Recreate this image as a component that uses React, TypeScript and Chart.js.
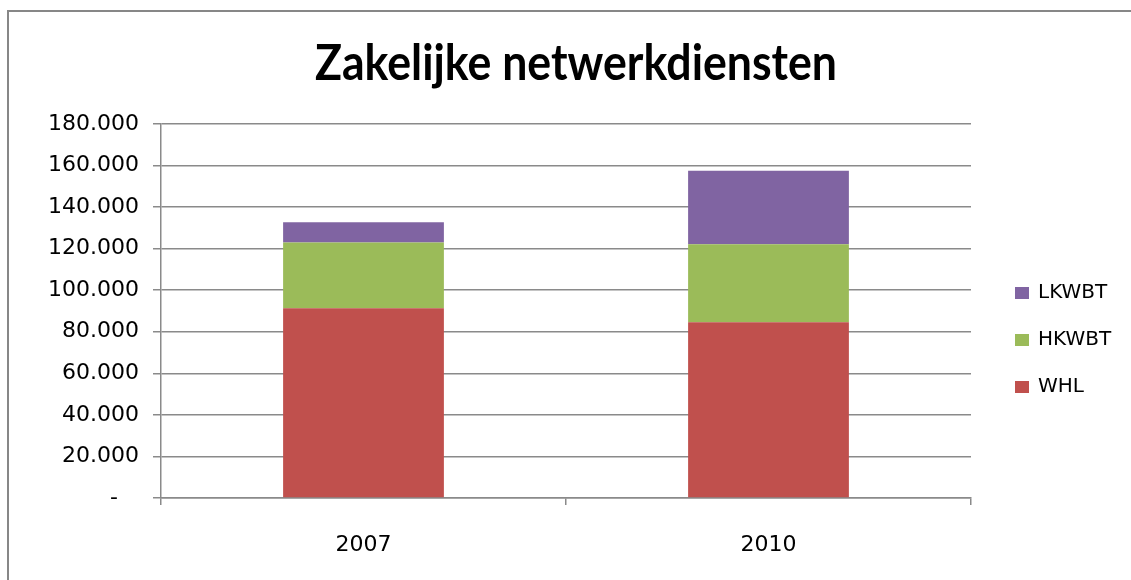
import { useEffect, useRef } from 'react';
import { Chart, registerables } from 'chart.js';

Chart.register(...registerables);

const categories = ['2007', '2010'];
const whl = [91300, 84600];
const hkwbt = [31700, 37500];
const lkwbt = [9700, 35400];
const seriesNames = ['WHL', 'HKWBT', 'LKWBT'];
const seriesColors = ['#C0504D', '#9BBB59', '#8064A2'];
const yMax = 180000;
const yStep = 20000;
const titleText = 'Zakelijke netwerkdiensten';

const gridColor = '#8a8a8a';
const axisFont = '"DejaVu Sans", "Open Sans", sans-serif';

function formatTick(v: number): string {
  if (v === 0) return '-   ';
  const thousands = Math.round(v / 1000);
  return `${thousands}.000`;
}

export default function App() {
  const ref = useRef<HTMLCanvasElement>(null);

  useEffect(() => {
    document.body.style.overflow = 'hidden';
    const canvas = ref.current;
    if (!canvas) return;

    const sideLegend = {
      id: 'sideLegend',
      afterDraw(chart: any) {
        const { ctx, chartArea } = chart;
        const items = [...chart.data.datasets].reverse();
        ctx.save();
        items.forEach((ds: any, i: number) => {
          const cy = chartArea.top + 169 + i * 47;
          ctx.fillStyle = ds.backgroundColor;
          ctx.fillRect(chartArea.right + 44, cy - 6, 14, 12);
          ctx.fillStyle = '#000';
          ctx.font = `20px ${axisFont}`;
          ctx.textBaseline = 'middle';
          ctx.textAlign = 'left';
          ctx.fillText(ds.label, chartArea.right + 67, cy);
        });
        ctx.restore();
      },
    };

    const condensedTitle = {
      id: 'condensedTitle',
      afterDraw(chart: any) {
        const { ctx } = chart;
        ctx.save();
        ctx.font = 'bold 50px Lato, "Open Sans", sans-serif';
        ctx.fillStyle = '#000';
        ctx.textBaseline = 'alphabetic';
        ctx.textAlign = 'center';
        const w = ctx.measureText(titleText).width;
        const sx = 522 / w;
        ctx.translate(576, 80);
        ctx.scale(sx, 1);
        ctx.fillText(titleText, 0, 0);
        ctx.restore();
      },
    };

    const values = [whl, hkwbt, lkwbt];
    const chart = new Chart(canvas, {
      type: 'bar',
      data: {
        labels: categories,
        datasets: seriesNames.map((name, i) => ({
          label: name,
          data: values[i],
          backgroundColor: seriesColors[i],
          borderWidth: 0,
          categoryPercentage: 1,
          barPercentage: 0.397,
        })),
      },
      options: {
        responsive: false,
        animation: false,
        layout: { padding: { left: 0, right: 160, top: 124, bottom: 0 } },
        plugins: {
          legend: { display: false },
          tooltip: { enabled: false },
          title: { display: false },
        },
        scales: {
          x: {
            stacked: true,
            afterFit: (scale: any) => { scale.height = 82; },
            grid: {
              display: true,
              drawOnChartArea: false,
              drawTicks: true,
              tickLength: 7,
              offset: true,
              color: gridColor,
              lineWidth: 1.5,
            },
            border: { display: true, color: gridColor, width: 1.5 },
            ticks: {
              color: '#000',
              font: { family: axisFont, size: 22 },
              padding: 27,
            },
          },
          y: {
            stacked: true,
            min: 0,
            max: yMax,
            afterFit: (scale: any) => { scale.width = 161; },
            grid: {
              color: gridColor,
              lineWidth: 1.5,
              drawTicks: true,
              tickLength: 8,
            },
            border: { display: true, color: gridColor, width: 1.5 },
            ticks: {
              stepSize: yStep,
              color: '#000',
              font: { family: axisFont, size: 22 },
              padding: 14,
              callback: (v: any) => formatTick(Number(v)),
            },
          },
        },
      },
      plugins: [sideLegend, condensedTitle],
    });

    return () => chart.destroy();
  }, []);

  return (
    <div style={{ position: 'fixed', left: 0, top: 0, width: 1131, height: 580, background: '#fff', overflow: 'hidden' }}>
      <div style={{ position: 'absolute', left: 7, top: 10, width: 1200, height: 700, border: '2px solid #878787', boxSizing: 'border-box' }} />
      <canvas ref={ref} width={1131} height={580} style={{ position: 'absolute', left: 0, top: 0 }} />
    </div>
  );
}
